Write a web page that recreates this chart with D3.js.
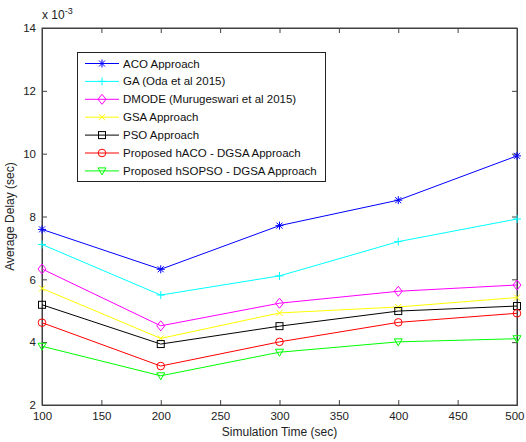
<!DOCTYPE html>
<html>
<head>
<meta charset="utf-8">
<script src="https://cdn.jsdelivr.net/npm/d3@7"></script>
<style>
  html, body { margin: 0; padding: 0; background: #fff; }
  svg { display: block; font-family: "Liberation Sans", Arial, sans-serif; }
</style>
</head>
<body>
<svg id="chart" width="526" height="442"></svg>
<script>
// Simulation times (sec)
const simTimes = [100, 200, 300, 400, 500];

// Average delay per approach, in units of 1e-3 sec
const acoDelay    = [7.59, 6.32, 7.71, 8.52, 9.93];
const gaDelay     = [7.11, 5.50, 6.11, 7.20, 7.92];
const dmodeDelay  = [6.33, 4.52, 5.24, 5.62, 5.82];
const gsaDelay    = [5.71, 4.12, 4.93, 5.12, 5.42];
const psoDelay    = [5.19, 3.94, 4.51, 4.99, 5.15];
const hacoDelay   = [4.62, 3.24, 4.01, 4.63, 4.92];
const hsopsoDelay = [3.87, 2.93, 3.68, 4.01, 4.11];

const seriesNames = [
  "ACO Approach",
  "GA (Oda et al 2015)",
  "DMODE (Murugeswari et al 2015)",
  "GSA Approach",
  "PSO Approach",
  "Proposed hACO - DGSA Approach",
  "Proposed hSOPSO - DGSA Approach"
];
const seriesColors = ["#0000ff", "#00ffff", "#ff00ff", "#ffff00", "#000000", "#ff0000", "#00ff00"];
const seriesMarkers = ["asterisk", "plus", "diamond", "cross", "square", "circle", "triangleDown"];
const seriesValues = [acoDelay, gaDelay, dmodeDelay, gsaDelay, psoDelay, hacoDelay, hsopsoDelay];

const xTicks = [100, 150, 200, 250, 300, 350, 400, 450, 500];
const yTicks = [2, 4, 6, 8, 10, 12, 14];

const svg = d3.select("#chart");
const margin = { left: 42, right: 9, top: 28, bottom: 37 };
const W = 526, H = 442;
const x0 = margin.left, x1 = W - margin.right, y0 = margin.top, y1 = H - margin.bottom;

const x = d3.scaleLinear().domain([100, 500]).range([x0, x1]);
const y = d3.scaleLinear().domain([2, 14]).range([y1, y0]);

const axisColor = "#404040";
const tickLen = 5;
const fontFam = "\"Liberation Sans\", Arial, sans-serif";

// Plot area box
svg.append("rect")
  .attr("x", x0).attr("y", y0)
  .attr("width", x1 - x0).attr("height", y1 - y0)
  .attr("fill", "#fff").attr("stroke", axisColor).attr("stroke-width", 1);

// Axes with inward ticks, mirrored on top and right
const gx = svg.append("g").attr("transform", `translate(0,${y1})`)
  .call(d3.axisBottom(x).tickValues(xTicks).tickSize(-tickLen).tickPadding(7).tickFormat(d3.format("d")));
const gxTop = svg.append("g").attr("transform", `translate(0,${y0})`)
  .call(d3.axisTop(x).tickValues(xTicks).tickSize(-tickLen).tickFormat(""));
const gy = svg.append("g").attr("transform", `translate(${x0},0)`)
  .call(d3.axisLeft(y).tickValues(yTicks).tickSize(-tickLen).tickPadding(8).tickFormat(d3.format("d")));
const gyRight = svg.append("g").attr("transform", `translate(${x1},0)`)
  .call(d3.axisRight(y).tickValues(yTicks).tickSize(-tickLen).tickFormat(""));

[gx, gxTop, gy, gyRight].forEach(g => {
  g.select(".domain").attr("stroke", axisColor);
  g.selectAll(".tick line").attr("stroke", axisColor);
  g.selectAll(".tick text").attr("fill", "#222").attr("font-size", 11.5)
    .attr("font-family", fontFam);
});
gy.selectAll(".tick text").attr("dx", 2);
// keep the last x tick label inside the frame
gx.selectAll(".tick text").filter(d => d === 500).attr("text-anchor", "end").attr("x", 7);

// Exponent label
const expo = svg.append("text").attr("x", 42).attr("y", 19)
  .attr("font-size", 12).attr("fill", "#222");
expo.append("tspan").text("x 10");
expo.append("tspan").attr("dy", -5).attr("font-size", 9).text("-3");

// Axis titles
svg.append("text").attr("x", (x0 + x1) / 2).attr("y", 436)
  .attr("text-anchor", "middle").attr("font-size", 12).attr("fill", "#222")
  .text("Simulation Time (sec)");
svg.append("text")
  .attr("transform", `translate(14,${(y0 + y1) / 2}) rotate(-90)`)
  .attr("text-anchor", "middle").attr("font-size", 12).attr("fill", "#222")
  .text("Average Delay (sec)");

// Marker drawing
function drawMarker(g, type, cx, cy, color) {
  const s = 4;
  const m = g.append("g").attr("transform", `translate(${cx},${cy})`)
    .attr("fill", "none").attr("stroke", color).attr("stroke-width", 1);
  if (type === "plus" || type === "asterisk") {
    m.append("path").attr("d", `M${-s},0H${s}M0,${-s}V${s}`);
  }
  if (type === "cross" || type === "asterisk") {
    const c = s * 0.75;
    m.append("path").attr("d", `M${-c},${-c}L${c},${c}M${-c},${c}L${c},${-c}`);
  }
  if (type === "diamond") {
    m.append("path").attr("d", `M0,${-5}L${4},0L0,${5}L${-4},0Z`);
  }
  if (type === "square") {
    m.append("rect").attr("x", -3.5).attr("y", -3.5).attr("width", 7).attr("height", 7);
  }
  if (type === "circle") {
    m.append("circle").attr("r", 3.8);
  }
  if (type === "triangleDown") {
    m.append("path").attr("d", `M${-4},${-3}L${4},${-3}L0,${4}Z`);
  }
}

const line = d3.line().x((d, i) => x(simTimes[i])).y(d => y(d));

const plot = svg.append("g");
seriesValues.forEach((vals, k) => {
  plot.append("path").datum(vals)
    .attr("d", line)
    .attr("fill", "none")
    .attr("stroke", seriesColors[k])
    .attr("stroke-width", 1);
  vals.forEach((v, i) => drawMarker(plot, seriesMarkers[k], x(simTimes[i]), y(v), seriesColors[k]));
});

// Legend
const lg = svg.append("g");
const lgX = 77.5, lgY = 52.5, lgW = 248, lgH = 129;
lg.append("rect").attr("x", lgX).attr("y", lgY).attr("width", lgW).attr("height", lgH)
  .attr("fill", "#fff").attr("stroke", "#222").attr("stroke-width", 1);
seriesNames.forEach((name, k) => {
  const ry = 63.5 + k * 17.9;
  lg.append("line").attr("x1", 85).attr("x2", 119).attr("y1", ry).attr("y2", ry)
    .attr("stroke", seriesColors[k]).attr("stroke-width", 1);
  drawMarker(lg, seriesMarkers[k], 102, ry, seriesColors[k]);
  lg.append("text").attr("x", 123).attr("y", ry + 4)
    .attr("font-size", 11.5).attr("fill", "#111").text(name);
});
</script>
</body>
</html>
